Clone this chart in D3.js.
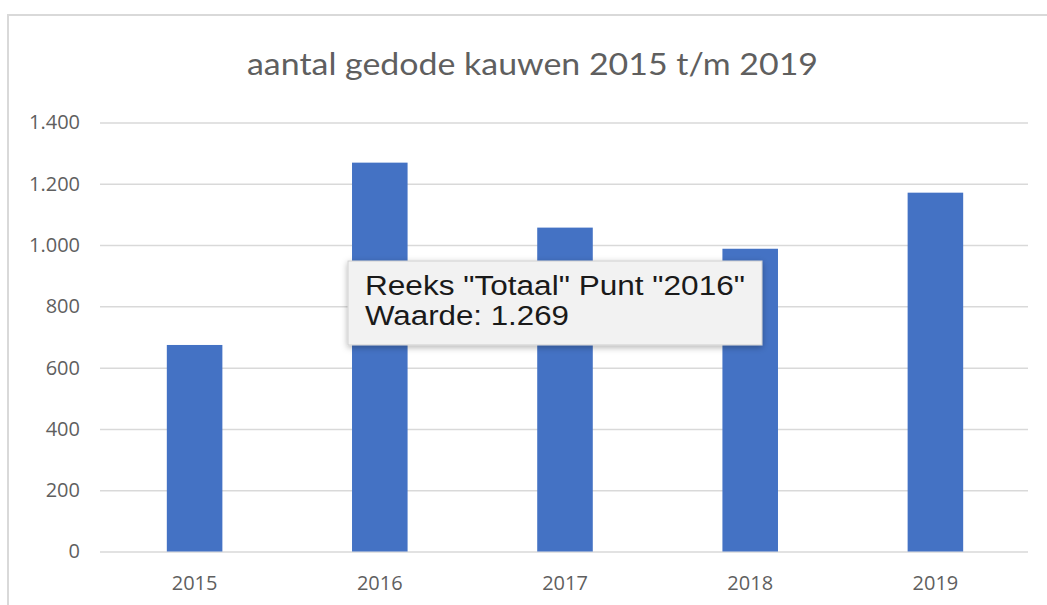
<!DOCTYPE html>
<html><head><meta charset="utf-8">
<script src="https://cdn.jsdelivr.net/npm/d3@7"></script>
<style>body{margin:0;background:#fff;}svg{display:block;}</style>
</head><body>
<svg id="c" width="1047" height="605"></svg>
<script>
const categories = ["2015","2016","2017","2018","2019"];
const values = [674, 1269, 1057, 988, 1171];
const yTicks = [0,200,400,600,800,1000,1200,1400];
const title = "aantal gedode kauwen 2015 t/m 2019";
const tooltipLines = ['Reeks "Totaal" Punt "2016"', 'Waarde: 1.269'];

const svg = d3.select("#c");
const loc = d3.formatLocale({decimal:",", thousands:".", grouping:[3], currency:["€",""]});
const fmt = loc.format(",d");

// frame
svg.append("line").attr("x1",7).attr("x2",1047).attr("y1",15).attr("y2",15).attr("stroke","#d9d9d9").attr("stroke-width",2);
svg.append("line").attr("x1",8).attr("x2",8).attr("y1",15).attr("y2",605).attr("stroke","#d9d9d9").attr("stroke-width",2);

const x = d3.scaleBand().domain(categories).range([102,1028]).paddingInner(0.7).paddingOuter(0.35);
const y = d3.scaleLinear().domain([0,1400]).range([551.5,122.5]);

svg.append("text").attr("x",247).attr("y",75)
  .attr("font-family","Lato, 'Open Sans', sans-serif").attr("font-size",30).attr("fill","#5f5f5f")
  .attr("textLength",571).attr("lengthAdjust","spacingAndGlyphs").text(title);

const ya = svg.append("g").attr("transform","translate(100,0)")
  .call(d3.axisLeft(y).tickValues(yTicks).tickFormat(fmt).tickSize(-928).tickPadding(20));
ya.select(".domain").remove();
ya.selectAll(".tick line").attr("stroke","#d9d9d9").attr("stroke-width",1.5);
ya.selectAll(".tick text").attr("font-family","'Open Sans', sans-serif").attr("font-size",20).attr("fill","#5f5f5f");

const xa = svg.append("g").attr("transform","translate(0,551.5)")
  .call(d3.axisBottom(x).tickSize(0).tickPadding(24));
xa.select(".domain").remove();
xa.selectAll(".tick text").attr("font-family","'Open Sans', sans-serif").attr("font-size",20).attr("fill","#5f5f5f");

svg.append("g").selectAll("rect").data(values).join("rect")
  .attr("x",(d,i)=>x(categories[i])).attr("width",x.bandwidth())
  .attr("y",d=>y(d)).attr("height",d=>y(0)-y(d)).attr("fill","#4472C4");

// tooltip
const defs = svg.append("defs");
const f = defs.append("filter").attr("id","sh").attr("x","-10%").attr("y","-20%").attr("width","120%").attr("height","150%");
f.append("feDropShadow").attr("dx",0).attr("dy",2).attr("stdDeviation",3).attr("flood-color","#000").attr("flood-opacity",0.3);
const tg = svg.append("g");
tg.append("rect").attr("x",348).attr("y",261).attr("width",414).attr("height",84)
  .attr("fill","#f2f2f2").attr("stroke","#cfcfcf").attr("stroke-width",1).attr("filter","url(#sh)");
const tl = [380, 204];
tg.selectAll("text").data(tooltipLines).join("text")
  .attr("x",365).attr("y",(d,i)=>295+i*30)
  .attr("font-family","'Liberation Sans', Arial, sans-serif").attr("font-size",27).attr("fill","#1a1a1a")
  .attr("textLength",(d,i)=>tl[i]).attr("lengthAdjust","spacingAndGlyphs").text(d=>d);
</script>
</body></html>
